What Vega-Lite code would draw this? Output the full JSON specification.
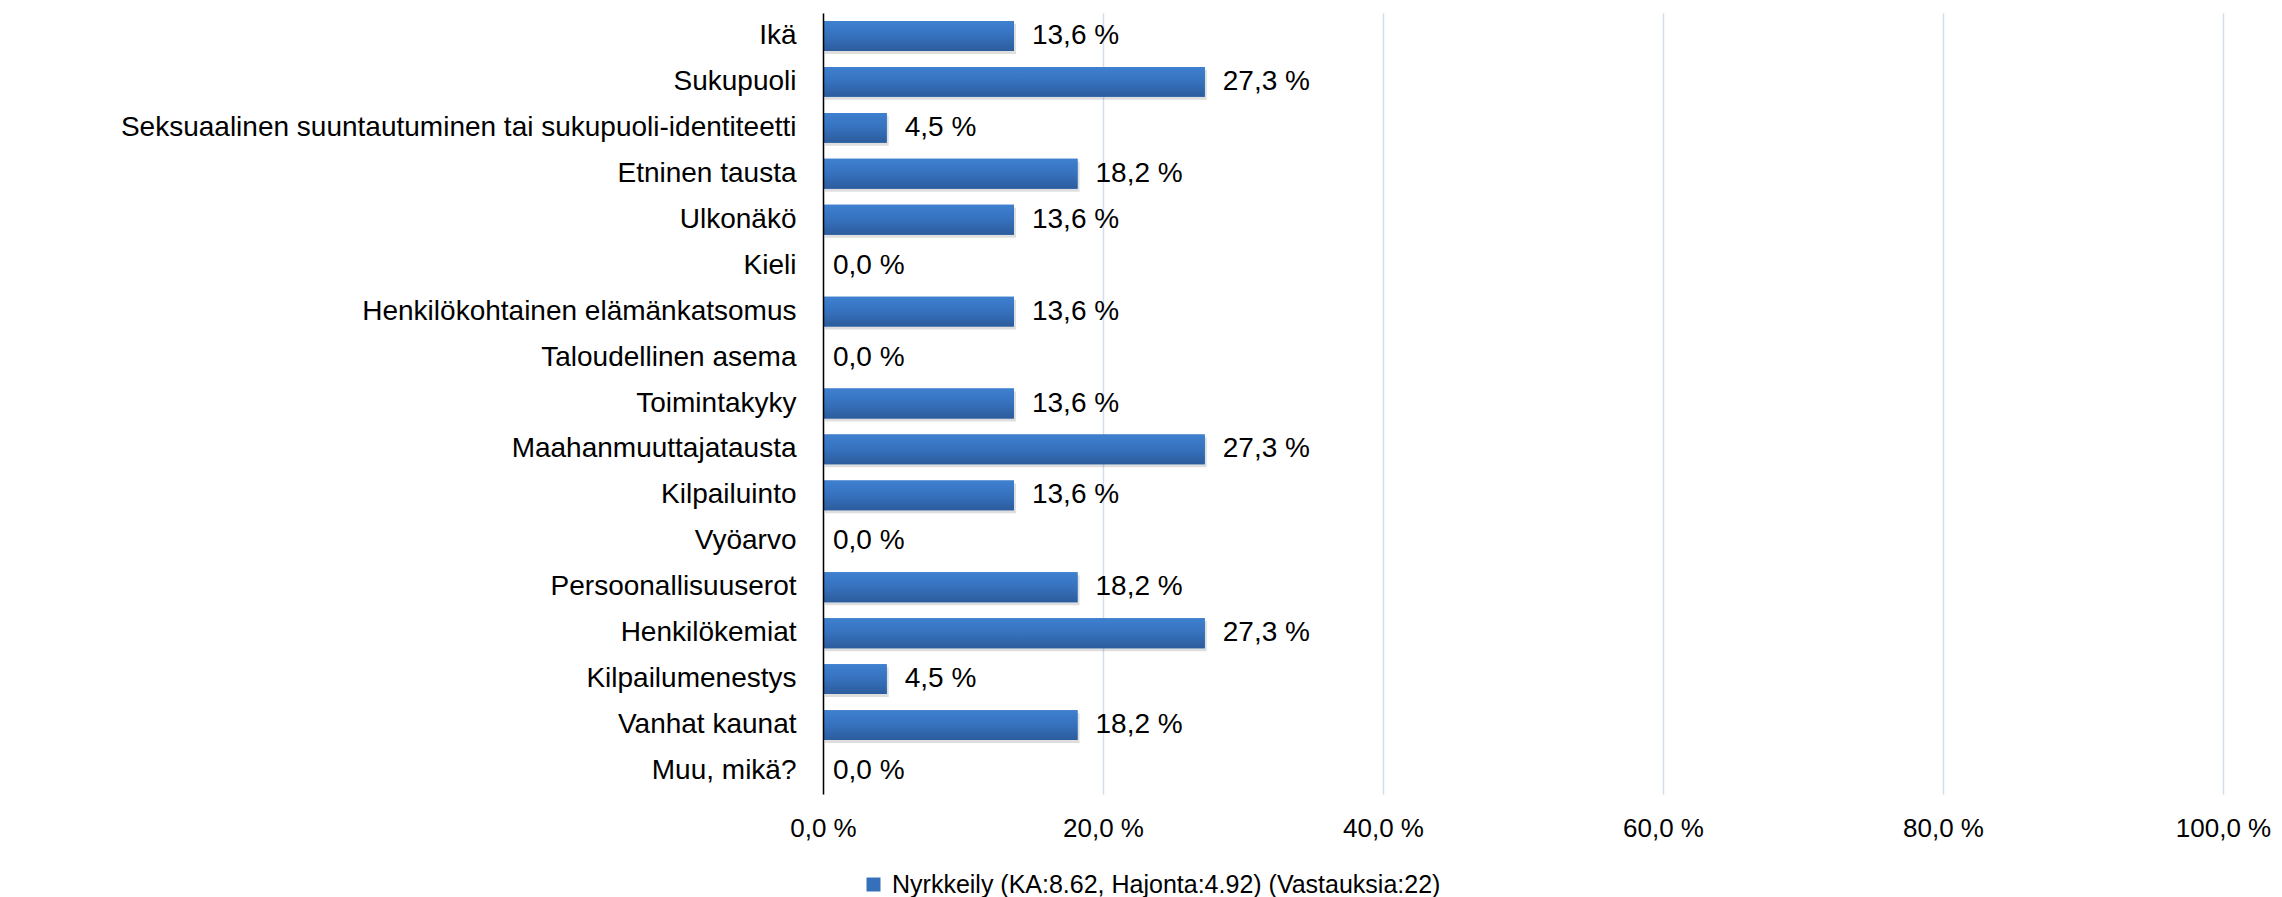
{
  "$schema": "https://vega.github.io/schema/vega-lite/v6.json",
  "autosize": {"type": "none"},
  "width": 1400,
  "height": 781,
  "padding": {"left": 823, "top": 13, "right": 59, "bottom": 103},
  "background": "white",
  "config": {
    "view": {"stroke": null},
    "font": "Liberation Sans",
    "locale": {"number": {"decimal": ",", "thousands": " ", "grouping": [3], "currency": ["", " €"], "percent": " %"}}
  },
  "data": {
    "values": [
      {"kategoria": "Ikä", "osuus": 0.1364, "sarja": "Nyrkkeily (KA:8.62, Hajonta:4.92) (Vastauksia:22)"},
      {"kategoria": "Sukupuoli", "osuus": 0.2727, "sarja": "Nyrkkeily (KA:8.62, Hajonta:4.92) (Vastauksia:22)"},
      {"kategoria": "Seksuaalinen suuntautuminen tai sukupuoli-identiteetti", "osuus": 0.0455, "sarja": "Nyrkkeily (KA:8.62, Hajonta:4.92) (Vastauksia:22)"},
      {"kategoria": "Etninen tausta", "osuus": 0.1818, "sarja": "Nyrkkeily (KA:8.62, Hajonta:4.92) (Vastauksia:22)"},
      {"kategoria": "Ulkonäkö", "osuus": 0.1364, "sarja": "Nyrkkeily (KA:8.62, Hajonta:4.92) (Vastauksia:22)"},
      {"kategoria": "Kieli", "osuus": 0, "sarja": "Nyrkkeily (KA:8.62, Hajonta:4.92) (Vastauksia:22)"},
      {"kategoria": "Henkilökohtainen elämänkatsomus", "osuus": 0.1364, "sarja": "Nyrkkeily (KA:8.62, Hajonta:4.92) (Vastauksia:22)"},
      {"kategoria": "Taloudellinen asema", "osuus": 0, "sarja": "Nyrkkeily (KA:8.62, Hajonta:4.92) (Vastauksia:22)"},
      {"kategoria": "Toimintakyky", "osuus": 0.1364, "sarja": "Nyrkkeily (KA:8.62, Hajonta:4.92) (Vastauksia:22)"},
      {"kategoria": "Maahanmuuttajatausta", "osuus": 0.2727, "sarja": "Nyrkkeily (KA:8.62, Hajonta:4.92) (Vastauksia:22)"},
      {"kategoria": "Kilpailuinto", "osuus": 0.1364, "sarja": "Nyrkkeily (KA:8.62, Hajonta:4.92) (Vastauksia:22)"},
      {"kategoria": "Vyöarvo", "osuus": 0, "sarja": "Nyrkkeily (KA:8.62, Hajonta:4.92) (Vastauksia:22)"},
      {"kategoria": "Persoonallisuuserot", "osuus": 0.1818, "sarja": "Nyrkkeily (KA:8.62, Hajonta:4.92) (Vastauksia:22)"},
      {"kategoria": "Henkilökemiat", "osuus": 0.2727, "sarja": "Nyrkkeily (KA:8.62, Hajonta:4.92) (Vastauksia:22)"},
      {"kategoria": "Kilpailumenestys", "osuus": 0.0455, "sarja": "Nyrkkeily (KA:8.62, Hajonta:4.92) (Vastauksia:22)"},
      {"kategoria": "Vanhat kaunat", "osuus": 0.1818, "sarja": "Nyrkkeily (KA:8.62, Hajonta:4.92) (Vastauksia:22)"},
      {"kategoria": "Muu, mikä?", "osuus": 0, "sarja": "Nyrkkeily (KA:8.62, Hajonta:4.92) (Vastauksia:22)"}
    ]
  },
  "encoding": {
    "y": {
      "field": "kategoria",
      "type": "nominal",
      "sort": null,
      "scale": {"paddingInner": 0.35, "paddingOuter": 0.175},
      "axis": {
        "title": null,
        "ticks": false,
        "domain": true,
        "domainColor": "#000000",
        "domainWidth": 1.5,
        "labelFontSize": 28,
        "labelColor": "#000000",
        "labelPadding": 27,
        "labelLimit": 0,
        "zindex": 2
      }
    },
    "x": {
      "field": "osuus",
      "type": "quantitative",
      "scale": {"domain": [0, 1], "nice": false},
      "axis": {
        "title": null,
        "values": [0, 0.2, 0.4, 0.6, 0.8, 1],
        "format": ".1%",
        "domain": false,
        "ticks": false,
        "grid": true,
        "gridColor": "#d2deef",
        "gridWidth": 1.5,
        "labelFontSize": 26,
        "labelColor": "#000000",
        "labelPadding": 21,
        "labelFlush": false
      }
    }
  },
  "layer": [
    {
      "mark": {"type": "bar", "color": "#000000", "opacity": 0.13, "yOffset": 3, "xOffset": 2}
    },
    {
      "mark": {"type": "bar"},
      "encoding": {
        "color": {
          "field": "sarja",
          "type": "nominal",
          "scale": {"range": ["#3670bb"]},
          "legend": {
            "title": null,
            "orient": "none",
            "legendX": 38,
            "legendY": 859,
            "symbolType": "square",
            "symbolSize": 196,
            "symbolStrokeWidth": 0,
            "labelFontSize": 25,
            "labelColor": "#000000",
            "labelLimit": 0,
            "labelOffset": 6
          }
        }
      }
    },
    {
      "mark": {
        "type": "bar",
        "color": {
          "gradient": "linear",
          "x1": 0, "y1": 0, "x2": 0, "y2": 1,
          "stops": [
            {"offset": 0, "color": "#3e80d0"},
            {"offset": 0.5, "color": "#3671bd"},
            {"offset": 1, "color": "#2c5c9c"}
          ]
        }
      }
    },
    {
      "mark": {
        "type": "text",
        "align": "left",
        "baseline": "middle",
        "fontSize": 28,
        "color": "#000000",
        "dx": {"expr": "datum.osuus > 0 ? 18 : 10"}
      },
      "encoding": {
        "text": {"field": "osuus", "type": "quantitative", "format": ".1%"}
      }
    }
  ]
}
